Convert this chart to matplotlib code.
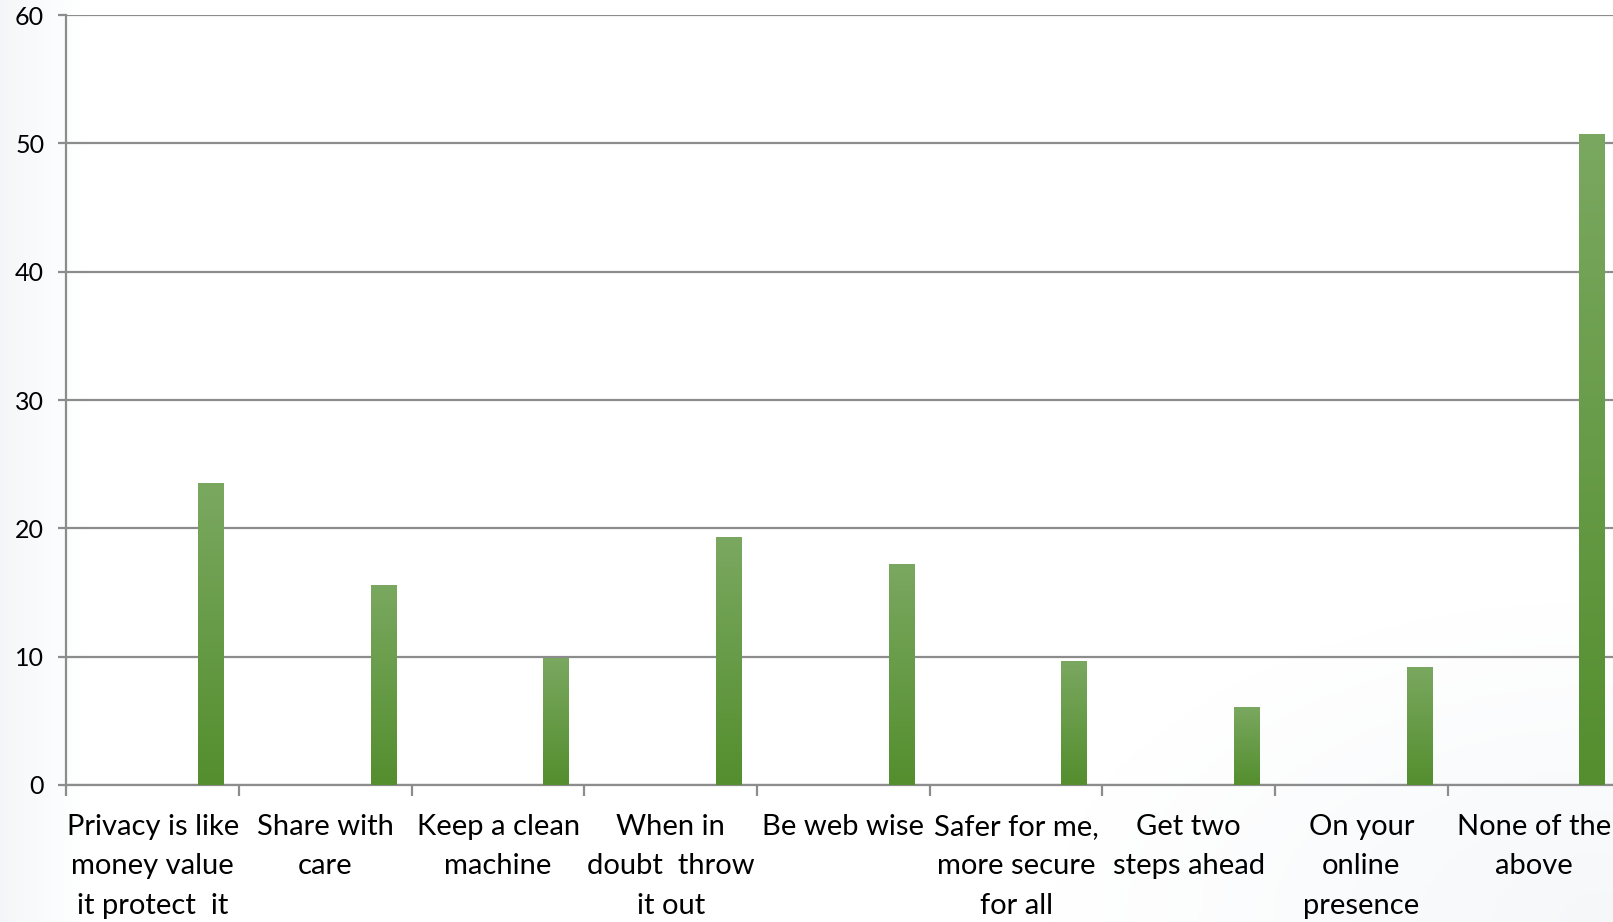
"""Bar chart of slogan recognition survey answers."""

import matplotlib.pyplot as plt
import numpy as np
from matplotlib.colors import LinearSegmentedColormap

plt.rcParams["font.family"] = ["Lato", "DejaVu Sans"]

categories = [
    "Privacy is like\nmoney value\nit protect  it",
    "Share with\ncare",
    "Keep a clean\nmachine",
    "When in\ndoubt  throw\nit out",
    "Be web wise",
    "Safer for me,\nmore secure\nfor all",
    "Get two\nsteps ahead",
    "On your\nonline\npresence",
    "None of the\nabove",
]
values = [23.5, 15.6, 9.9, 19.3, 17.2, 9.7, 6.1, 9.2, 50.7]
yticks = [0, 10, 20, 30, 40, 50, 60]

fig = plt.figure(figsize=(16.13, 9.22), dpi=100)

# faint background shading like the slide behind the chart
bg = fig.add_axes([0, 0, 1, 1], zorder=-10)
xx, yy = np.meshgrid(np.linspace(0, 1, 400), np.linspace(0, 1, 300))
shade = np.clip(1 - xx / 0.05, 0, 1) * 0.5 + np.clip(1 - np.hypot(xx - 1, yy) / 0.35, 0, 1) * 0.45
bg_cmap = LinearSegmentedColormap.from_list("bg", ["#ffffff", "#e9eef3"])
bg.imshow(shade, cmap=bg_cmap, vmin=0, vmax=1, aspect="auto", extent=[0, 1, 0, 1], origin="lower")
bg.set_axis_off()

ax = fig.add_axes([0.0412, 0.1486, 0.9634, 0.835])
ax.patch.set_alpha(0)

x = np.arange(len(categories))
bars = ax.bar(x + 0.334, values, width=0.145, color="#62993d", zorder=3)

green = LinearSegmentedColormap.from_list("green", ["#548e2e", "#7aa860"])
grad = np.linspace(0, 1, 256).reshape(-1, 1)
for b in bars:
    x0, y0 = b.get_x(), b.get_y()
    im = ax.imshow(grad, cmap=green, aspect="auto", origin="lower",
                   extent=[x0, x0 + b.get_width(), y0, y0 + b.get_height()], zorder=4)
    im.set_clip_path(b)

ax.set_xlim(-0.5, len(categories) - 0.5)
ax.set_ylim(0, 60)
ax.set_yticks(yticks)
ax.set_yticklabels([str(t) for t in yticks], fontsize=18)
ax.yaxis.grid(True, color="#8c8c8c", linewidth=1.6, zorder=1)
ax.set_axisbelow(True)

ax.set_xticks(np.arange(len(categories) + 1) - 0.5)
ax.set_xticklabels([])
ax.set_xticks(x, minor=True)
ax.set_xticklabels(categories, minor=True, fontsize=21, linespacing=1.63)
ax.tick_params(axis="x", which="minor", length=0, pad=21)
ax.tick_params(axis="x", which="major", length=8, width=1.6, color="#8c8c8c")
ax.tick_params(axis="y", length=6, width=1.6, color="#8c8c8c", pad=10)

for side in ["top", "right"]:
    ax.spines[side].set_visible(False)
for side in ["left", "bottom"]:
    ax.spines[side].set_color("#8c8c8c")
    ax.spines[side].set_linewidth(1.6)

fig.savefig("out.png", dpi=100)
